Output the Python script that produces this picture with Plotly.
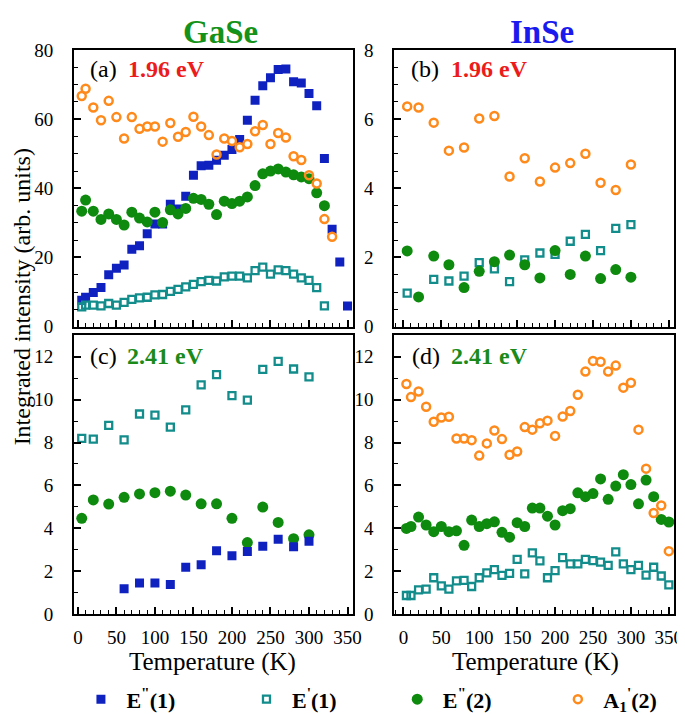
import plotly.graph_objects as go

# ---------------- data ----------------
# GaSe, 1.96 eV (panel a)
T_a_E1pp = [5,10,20,30,40,50,60,70,80,90,100,110,120,130,140,150,160,170,180,190,200,210,220,230,240,250,260,270,280,290,300,310,320,330,340,350]
a_E1pp = [7.6,8.5,9.9,11.3,15.0,16.9,17.8,22.4,23.4,26.9,29.7,29.7,35.4,34.0,37.7,43.8,46.5,46.7,48.1,49.6,51.2,54.1,59.7,65.5,69.7,72.0,74.4,74.5,70.8,70.5,67.4,63.9,48.6,28.2,18.7,6.0]
T_a_E1p = [5,10,20,30,40,50,60,70,80,90,100,110,120,130,140,150,160,170,180,190,200,210,220,230,240,250,260,270,280,290,300,310,320]
a_E1p = [5.7,6.2,6.2,6.0,6.7,6.2,7.0,7.9,8.3,8.5,9.2,9.3,10.2,10.8,11.5,12.2,13.0,13.4,13.2,14.4,14.6,14.6,14.1,16.2,17.2,15.2,16.4,16.2,15.2,14.1,13.4,11.3,6.0]
T_a_E2pp = [5,10,20,30,40,50,60,70,80,90,100,110,120,130,140,150,160,170,180,190,200,210,220,230,240,250,260,270,280,290,300,310,320]
a_E2pp = [33.4,36.6,33.4,31.0,32.6,31.0,29.4,33.1,31.4,30.3,33.1,30.1,33.8,32.6,34.2,37.1,36.8,35.4,32.4,36.3,35.6,36.3,37.5,40.8,44.2,45.0,45.6,44.7,43.9,43.3,42.8,38.7,35.0]
T_a_A1p = [5,10,20,30,40,50,60,70,80,90,100,110,120,130,140,150,160,170,180,190,200,210,220,230,240,250,260,270,280,290,300,310,320,330]
a_A1p = [66.7,68.8,63.4,59.7,65.3,60.6,54.4,60.6,57.2,57.9,57.9,53.5,58.9,54.9,56.3,60.7,57.9,55.4,49.8,54.4,53.7,51.9,52.8,56.5,58.3,52.8,56.0,54.7,49.3,48.2,43.8,41.4,31.1,26.0]

# InSe, 1.96 eV (panel b)
T_b_E1p = [5,40,60,80,100,120,140,160,180,200,220,240,260,280,300]
b_E1p = [0.97,1.37,1.32,1.46,1.85,1.67,1.30,1.93,2.13,2.09,2.47,2.67,2.20,2.84,2.95]
T_b_E2pp = [5,20,40,60,80,100,120,140,160,180,200,220,240,260,280,300]
b_E2pp = [2.19,0.86,2.04,1.79,1.13,1.60,1.88,2.07,1.79,1.41,2.20,1.51,2.04,1.39,1.65,1.43]
T_b_A1p = [5,20,40,60,80,100,120,140,160,180,200,220,240,260,280,300]
b_A1p = [6.37,6.34,5.90,5.09,5.18,6.02,6.09,4.34,4.87,4.20,4.60,4.73,5.00,4.16,3.95,4.69]

# GaSe, 2.41 eV (panel c)
T_c_E1pp = [60,80,100,120,140,160,180,200,220,240,260,280,300]
c_E1pp = [1.17,1.44,1.44,1.37,2.18,2.30,2.95,2.71,2.91,3.16,3.48,3.13,3.39]
T_c_E1p = [5,20,40,60,80,100,120,140,160,180,200,220,240,260,280,300]
c_E1p = [8.19,8.16,8.80,8.12,9.33,9.28,8.72,9.52,10.69,11.17,10.19,9.98,11.41,11.79,11.43,11.06]
T_c_E2pp = [5,20,40,60,80,100,120,140,160,180,200,220,240,260,280,300]
c_E2pp = [4.46,5.32,5.13,5.44,5.60,5.66,5.73,5.55,5.14,5.14,4.46,3.33,4.99,4.27,3.51,3.69]

# InSe, 2.41 eV (panel d)
T_d = [4,10,20,30,40,50,60,70,80,90,100,110,120,130,140,150,160,170,180,190,200,210,220,230,240,250,260,270,280,290,300,310,320,330,340,350]
d_E1p = [0.86,0.86,1.12,1.16,1.69,1.31,1.16,1.54,1.57,1.28,1.69,1.92,2.07,1.80,1.89,2.55,1.87,2.85,2.48,1.69,2.02,2.63,2.34,2.34,2.55,2.49,2.42,2.27,2.90,2.34,2.07,2.27,1.81,2.18,1.77,1.36]
d_E2pp = [3.99,4.08,4.52,4.15,3.84,4.08,3.84,3.88,3.20,4.38,4.08,4.21,4.30,3.81,3.58,4.26,4.08,4.94,4.94,4.56,4.15,4.82,4.91,5.65,5.47,5.62,6.30,5.35,5.97,6.50,6.04,5.14,6.25,5.47,4.41,4.29]
d_A1p = [10.73,10.12,10.38,9.67,8.97,9.17,9.20,8.19,8.19,8.11,7.39,7.96,8.56,8.16,7.43,7.58,8.72,8.60,8.90,9.02,8.31,9.21,9.47,10.23,11.31,11.81,11.77,11.31,11.59,10.56,10.79,8.60,6.78,4.71,5.06,2.93]

series_names = ["<b>E<sup>\"</sup>(1)</b>", "<b>E<sup>'</sup>(1)</b>", "<b>E<sup>\"</sup>(2)</b>", "<b>A<sub>1</sub><sup>'</sup>(2)</b>"]
x_ticks = [0, 50, 100, 150, 200, 250, 300, 350]

# ---------------- styles ----------------
W, H = 685, 714
FONT = "Times New Roman, Liberation Serif, serif"
BLUE, TEAL, GREEN, ORANGE = "#0f22c0", "#138c8c", "#0e8a0e", "#ff8a1c"
styles = [
    dict(symbol="square", size=9, color=BLUE),
    dict(symbol="square-open", size=7, color=TEAL, line=dict(color=TEAL, width=2.3)),
    dict(symbol="circle", size=11, color=GREEN),
    dict(symbol="circle-open", size=8, color=ORANGE, line=dict(color=ORANGE, width=2.5)),
]
legend_ids = ["legend", "legend2", "legend3", "legend4"]
legend_px = [73, 241, 394, 557]

def px_x(p):
    return p / W

def px_y(p):
    return 1 - p / H

fig = go.Figure()

def add(xa, ya, T, V, k, show):
    fig.add_trace(go.Scatter(x=T, y=V, mode="markers", marker=styles[k],
                             name="\u00a0" + series_names[k],
                             xaxis=xa, yaxis=ya, showlegend=show, legend=legend_ids[k]))

# panel a
add("x", "y", T_a_E1pp, a_E1pp, 0, True)
add("x", "y", T_a_E1p, a_E1p, 1, True)
add("x", "y", T_a_E2pp, a_E2pp, 2, True)
add("x", "y", T_a_A1p, a_A1p, 3, True)
# panel b
add("x2", "y2", T_b_E1p, b_E1p, 1, False)
add("x2", "y2", T_b_E2pp, b_E2pp, 2, False)
add("x2", "y2", T_b_A1p, b_A1p, 3, False)
# panel c
add("x3", "y3", T_c_E1p, c_E1p, 1, False)
add("x3", "y3", T_c_E2pp, c_E2pp, 2, False)
add("x3", "y3", T_c_E1pp, c_E1pp, 0, False)
# panel d
add("x4", "y4", T_d, d_E1p, 1, False)
add("x4", "y4", T_d, d_E2pp, 2, False)
add("x4", "y4", T_d, d_A1p, 3, False)

tickfont = dict(family=FONT, size=19, color="black")
common = dict(showline=True, linecolor="black", linewidth=1.8, mirror=True, ticks="inside",
              ticklen=7, tickwidth=1.5, tickcolor="black", tickfont=tickfont, showgrid=False,
              zeroline=False, fixedrange=True)

left_dom = [px_x(66), px_x(349)]
right_dom = [px_x(391), px_x(675)]
top_dom = [px_y(318), px_y(33)]
bot_dom = [px_y(614), px_y(327)]

def xax(dom, rng, anchor, labels):
    d = dict(common)
    d.update(domain=dom, range=rng, anchor=anchor, tickvals=x_ticks, showticklabels=labels,
             ticklabelstandoff=5,
             minor=dict(dtick=10, tick0=0, ticks="inside", ticklen=4, tickwidth=1.3, tickcolor="black"))
    return d

def yax(dom, rng, anchor, dtick, mdtick):
    d = dict(common)
    d.update(domain=dom, range=rng, anchor=anchor, dtick=dtick, tick0=0, ticklabelstandoff=15,
             minor=dict(dtick=mdtick, tick0=0, ticks="inside", ticklen=4, tickwidth=1.3, tickcolor="black"))
    return d

layout = dict(
    width=W, height=H, margin=dict(l=0, r=0, t=0, b=0),
    paper_bgcolor="white", plot_bgcolor="white",
    font=dict(family=FONT, color="black"),
    xaxis=xax(left_dom, [-5, 357], "y", False),
    yaxis=yax(top_dom, [0, 80], "x", 20, 5),
    xaxis2=xax(right_dom, [-12, 357], "y2", False),
    yaxis2=yax(top_dom, [0, 8], "x2", 2, 0.5),
    xaxis3=xax(left_dom, [-5, 357], "y3", True),
    yaxis3=yax(bot_dom, [0, 13], "x3", 2, 1),
    xaxis4=xax(right_dom, [-12, 357], "y4", True),
    yaxis4=yax(bot_dom, [0, 13], "x4", 2, 1),
    showlegend=True,
)
for lid, lx in zip(legend_ids, legend_px):
    layout[lid] = dict(orientation="h", x=px_x(lx), y=px_y(702), xanchor="left", yanchor="middle",
                       font=dict(family=FONT, size=22, color="black"), bgcolor="rgba(0,0,0,0)")
fig.update_layout(**layout)

ann = []
def text(x, y, s, size, color="black", xanchor="center", angle=0):
    ann.append(dict(x=px_x(x), y=px_y(y), xref="paper", yref="paper", text=s, showarrow=False,
                    xanchor=xanchor, yanchor="middle", textangle=angle,
                    font=dict(family=FONT, size=size, color=color)))

text(215, 14, "<b>GaSe</b>", 33, "#15921a")
text(541, 14, "<b>InSe</b>", 33, "#1a1aee")
text(80, 53, "(a)", 24, xanchor="left")
text(119, 53, "<b>1.96 eV</b>", 24, "#ec1c1c", xanchor="left")
text(406, 53, "(b)", 24, xanchor="left")
text(447, 53, "<b>1.96 eV</b>", 24, "#ec1c1c", xanchor="left")
text(80, 348, "(c)", 24, xanchor="left")
text(118, 348, "<b>2.41 eV</b>", 24, "#1a8a1a", xanchor="left")
text(407, 348, "(d)", 24, xanchor="left")
text(447, 348, "<b>2.41 eV</b>", 24, "#1a8a1a", xanchor="left")
text(207, 663, "Temperature (K)", 25)
text(534, 663, "Temperature (K)", 25)
text(13, 287, "Integrated intensity (arb. units)", 24, angle=-90)
fig.update_layout(annotations=ann)

fig.write_html("out.html")
